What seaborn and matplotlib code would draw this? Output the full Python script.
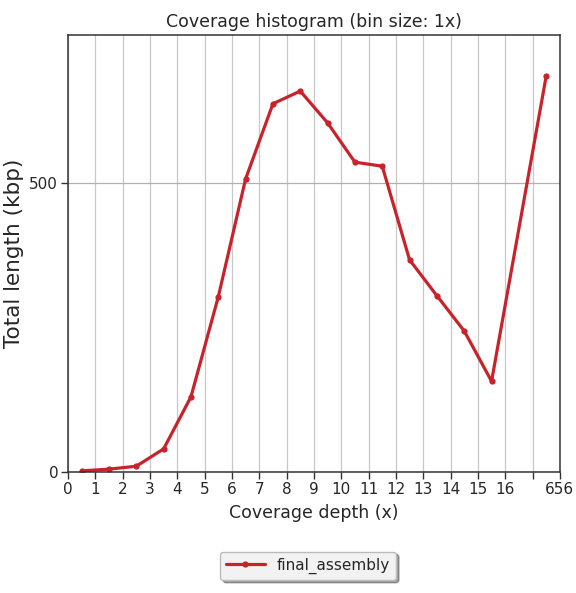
import matplotlib
matplotlib.use("Agg")
import matplotlib.pyplot as plt
import seaborn as sns
import pandas as pd

# Data
coverage_x = [0.5, 1.5, 2.5, 3.5, 4.5, 5.5, 6.5, 7.5, 8.5, 9.5, 10.5, 11.5, 12.5, 13.5, 14.5, 15.5, 17.5]
total_length = [2, 5, 10, 40, 130, 303, 507, 637, 659, 604, 536, 529, 367, 305, 244, 157, 685]
tick_positions = list(range(0, 19))
tick_labels = [str(i) for i in range(0, 17)] + ["", "656"]
series_name = "final_assembly"

df = pd.DataFrame({"x": coverage_x, "y": total_length, "series": series_name})

sns.set_style("ticks")
plt.rcParams['font.family'] = ['DejaVu Sans']

fig = plt.figure(figsize=(5.76, 5.93), dpi=100)
ax = fig.add_axes([0.118, 0.204, 0.854, 0.737])

sns.lineplot(data=df, x="x", y="y", hue="series", palette=["#c8232b"],
             marker="o", markersize=4.5, markeredgewidth=0, linewidth=2.3, ax=ax)

ax.set_xlim(0, 18)
ax.set_ylim(0, 756)
ax.set_xticks(tick_positions)
ax.set_xticklabels(tick_labels, fontsize=11)
ax.set_yticks([0, 500])
ax.set_yticklabels(["0", "500"], fontsize=11)
ax.tick_params(axis="both", direction="out", length=5, width=1, color="#333333", pad=2,
               bottom=True, left=True)
ax.xaxis.grid(True, color="#c8c8c8", linewidth=0.9)
ax.yaxis.grid(True, color="#b0b0b0", linewidth=0.9)
for s in ax.spines.values():
    s.set_visible(True)
    s.set_color("#333333")
    s.set_linewidth(1.1)

ax.set_title("Coverage histogram (bin size: 1x)", fontsize=12.5, pad=6)
ax.set_xlabel("Coverage depth (x)", fontsize=12.5, labelpad=5)
ax.set_ylabel("Total length (kbp)", fontsize=15.5, labelpad=4)

leg = ax.legend(loc="center", bbox_to_anchor=(0.535, 0.046), bbox_transform=fig.transFigure,
                fancybox=True, shadow=True, frameon=True, fontsize=11, handlelength=2.5)
leg.get_frame().set_facecolor("#f2f2f2")
leg.get_frame().set_edgecolor("#bbbbbb")

fig.savefig("out.png", dpi=100)
